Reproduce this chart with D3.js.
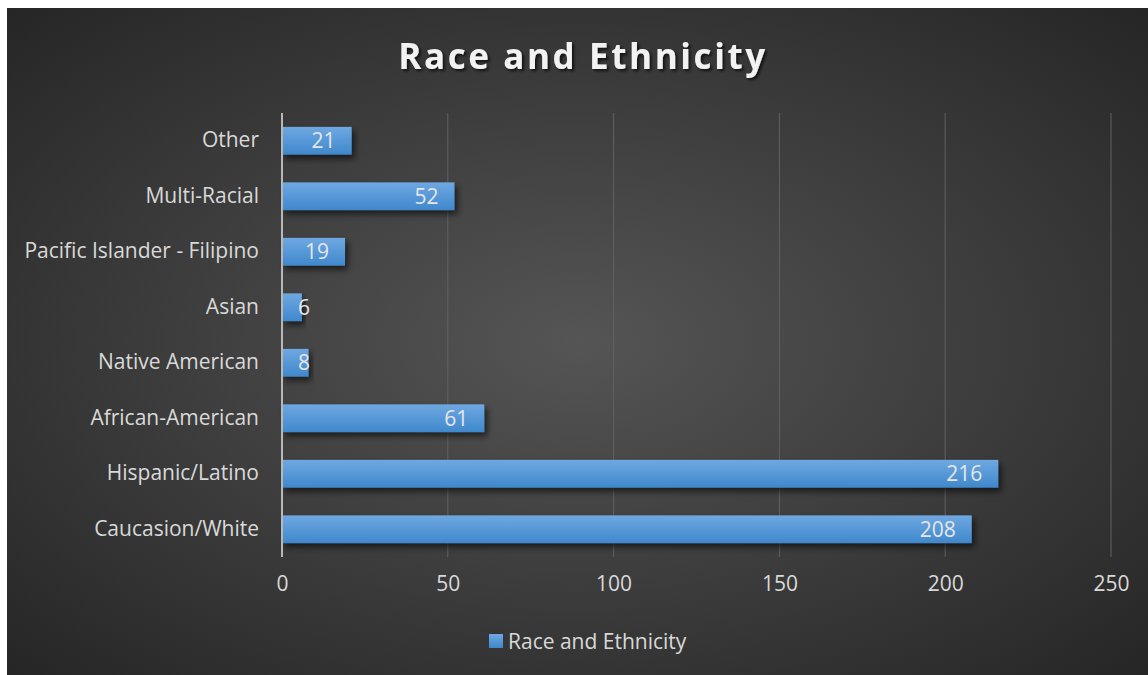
<!DOCTYPE html>
<html>
<head>
<meta charset="utf-8">
<script src="https://cdn.jsdelivr.net/npm/d3@7"></script>
<style>
  body { margin: 0; background: #fff; }
  text { font-family: "Open Sans", Lato, sans-serif; }
</style>
</head>
<body>
<svg width="1148" height="675"></svg>
<script>
// chart values
var categories = ["Other", "Multi-Racial", "Pacific Islander - Filipino", "Asian",
                  "Native American", "African-American", "Hispanic/Latino", "Caucasion/White"];
var values = [21, 52, 19, 6, 8, 61, 216, 208];
var xTicks = [0, 50, 100, 150, 200, 250];
var seriesName = "Race and Ethnicity";

var svg = d3.select("svg"),
    margin = {top: 113, right: 37, bottom: 118, left: 282},
    width = +svg.attr("width") - margin.left - margin.right,
    height = +svg.attr("height") - margin.top - margin.bottom;

var font = "'Open Sans', Lato, sans-serif";
var fs = 21;
var defs = svg.append("defs");

// radial background, lighter in the middle
var bg = defs.append("radialGradient").attr("id", "bg")
    .attr("cx", "50%").attr("cy", "50%").attr("r", "70%");
bg.append("stop").attr("offset", "0%").attr("stop-color", "#555555");
bg.append("stop").attr("offset", "100%").attr("stop-color", "#262626");

var barGrad = defs.append("linearGradient").attr("id", "bar")
    .attr("x1", 0).attr("y1", 0).attr("x2", 0).attr("y2", 1);
barGrad.append("stop").attr("offset", "0%").attr("stop-color", "#6fa8e2");
barGrad.append("stop").attr("offset", "100%").attr("stop-color", "#3f88cc");

var shadow = defs.append("filter").attr("id", "shadow")
    .attr("x", "-10%").attr("y", "-40%").attr("width", "130%").attr("height", "200%");
shadow.append("feDropShadow").attr("dx", 3).attr("dy", 4).attr("stdDeviation", 3)
    .attr("flood-color", "#000").attr("flood-opacity", 0.6);

var tshadow = defs.append("filter").attr("id", "tshadow");
tshadow.append("feDropShadow").attr("dx", 2).attr("dy", 2).attr("stdDeviation", 1.5)
    .attr("flood-color", "#000").attr("flood-opacity", 0.7);

svg.append("rect")
    .attr("x", 7).attr("y", 8)
    .attr("width", 1141).attr("height", 667)
    .attr("fill", "url(#bg)");

// title
svg.append("text")
    .attr("x", 583).attr("y", 69)
    .attr("text-anchor", "middle")
    .attr("fill", "#f2f2f2")
    .attr("font-size", 35)
    .attr("font-weight", "bold")
    .attr("letter-spacing", 2.6)
    .attr("filter", "url(#tshadow)")
    .text(seriesName);

var x = d3.scaleLinear().domain([0, 250]).range([0, width]);
var y = d3.scaleBand().domain(categories).range([0, height]).paddingInner(0.5).paddingOuter(0.25);

var g = svg.append("g")
    .attr("transform", "translate(" + margin.left + "," + margin.top + ")");

// gridlines
g.selectAll(".grid")
    .data(xTicks.slice(1))
    .enter().append("line")
      .attr("x1", function(d) { return x(d); })
      .attr("x2", function(d) { return x(d); })
      .attr("y1", 0).attr("y2", height)
      .attr("stroke", "#626262")
      .attr("stroke-width", 1);

// x axis labels
var xAxis = g.append("g")
    .attr("transform", "translate(0," + height + ")")
    .call(d3.axisBottom(x).tickValues(xTicks).tickSize(0).tickPadding(19));
xAxis.select(".domain").remove();
xAxis.selectAll("text").attr("fill", "#d9d9d9").attr("font-size", fs)
    .attr("font-family", font);

// y axis labels
var yAxis = g.append("g")
    .call(d3.axisLeft(y).tickSize(0).tickPadding(23));
yAxis.select(".domain").remove();
yAxis.selectAll("text").attr("fill", "#d9d9d9").attr("font-size", fs)
    .attr("font-family", font);

// bars
g.selectAll(".bar")
    .data(values)
    .enter().append("rect")
      .attr("class", "bar")
      .attr("x", 0)
      .attr("y", function(d, i) { return y(categories[i]); })
      .attr("width", function(d) { return x(d); })
      .attr("height", y.bandwidth())
      .attr("fill", "url(#bar)")
      .attr("filter", "url(#shadow)");

// value labels inside end
g.selectAll(".val")
    .data(values)
    .enter().append("text")
      .attr("x", function(d) { return Math.max(x(d) - 16, 28); })
      .attr("y", function(d, i) { return y(categories[i]) + y.bandwidth() / 2; })
      .attr("dy", "0.36em")
      .attr("text-anchor", "end")
      .attr("fill", "#e6e6e6")
      .attr("font-size", fs)
      .text(function(d) { return d; });

// left axis line
g.append("line")
    .attr("x1", 0).attr("x2", 0)
    .attr("y1", 0).attr("y2", height)
    .attr("stroke", "#b8b8b8").attr("stroke-width", 2);

// legend
var legend = svg.append("g").attr("transform", "translate(489,634)");
legend.append("rect")
    .attr("width", 14).attr("height", 14)
    .attr("fill", "url(#bar)");
legend.append("text")
    .attr("x", 19).attr("y", 7).attr("dy", "0.36em")
    .attr("fill", "#d9d9d9").attr("font-size", fs)
    .text(seriesName);
</script>
</body>
</html>
